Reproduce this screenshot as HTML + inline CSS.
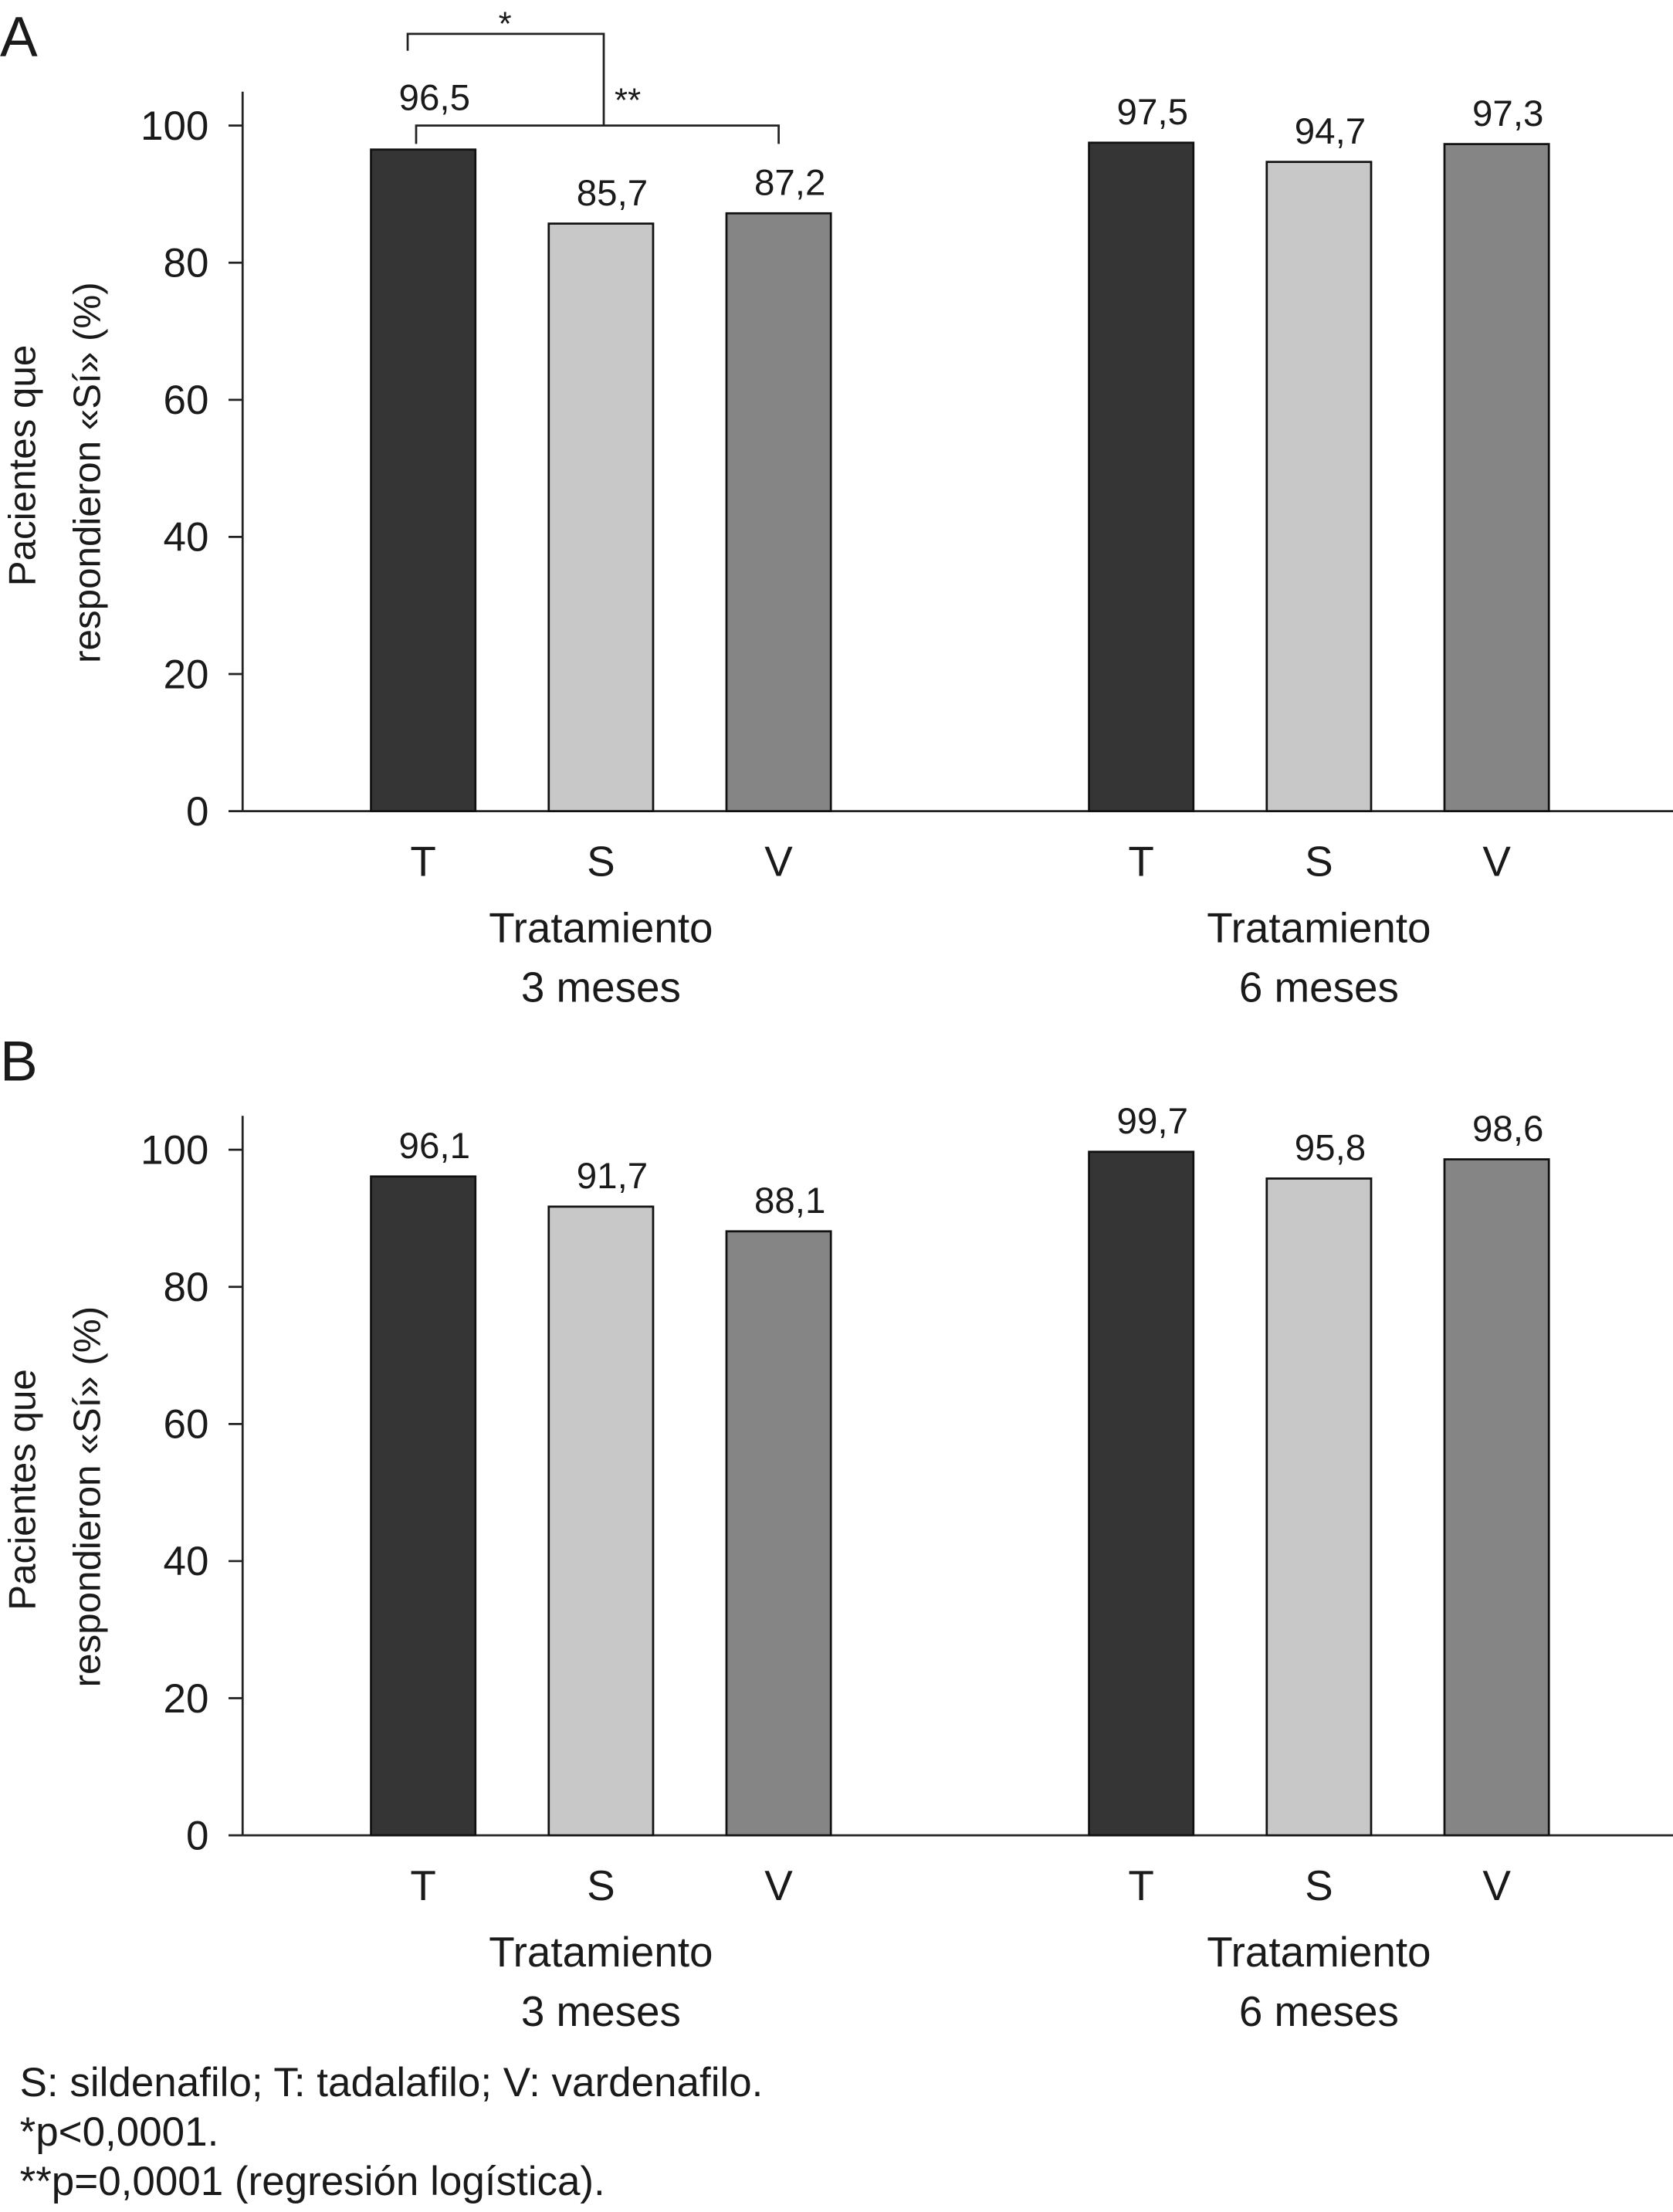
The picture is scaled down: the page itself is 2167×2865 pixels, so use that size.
<!DOCTYPE html>
<html><head><meta charset="utf-8"><style>
html,body{margin:0;padding:0;background:#fff;}
svg{display:block;}
text{font-family:"Liberation Sans",sans-serif;fill:#1a1a1a;}
</style></head><body>
<svg id="chart" width="2167" height="2865" viewBox="0 0 1186 1568" xmlns="http://www.w3.org/2000/svg">
<text x="0" y="40" font-size="40">A</text>
<text x="0" y="766" font-size="40">B</text>
<g id="panelA"></g>
<g id="panelB"></g>
<g stroke="#222" stroke-width="1.5" fill="none">
  <polyline points="289,36 289,24 428,24 428,89"/>
  <polyline points="295,102 295,89 552,89 552,102"/>
</g>
<text x="358" y="25" font-size="24" text-anchor="middle">*</text>
<text x="445" y="79" font-size="24" text-anchor="middle">**</text>
<text x="14" y="1486" font-size="29">S: sildenafilo; T: tadalafilo; V: vardenafilo.</text>
<text x="14" y="1521" font-size="29">*p&lt;0,0001.</text>
<text x="14" y="1556" font-size="29">**p=0,0001 (regresión logística).</text>
</svg>
<script>
const categories = ["T","S","V"];
const groups = ["3 meses","6 meses"];
const valuesA3 = [96.5, 85.7, 87.2];
const valuesA6 = [97.5, 94.7, 97.3];
const valuesB3 = [96.1, 91.7, 88.1];
const valuesB6 = [99.7, 95.8, 98.6];
const labelsA3 = ["96,5","85,7","87,2"];
const labelsA6 = ["97,5","94,7","97,3"];
const labelsB3 = ["96,1","91,7","88,1"];
const labelsB6 = ["99,7","95,8","98,6"];
const yTicks = [0,20,40,60,80,100];

const NS="http://www.w3.org/2000/svg";
const colors=["#353535","#c8c8c8","#858585"];
const groupStart=[263,772], barW=74, barGap=126;
function mk(tag,attrs,parent){const e=document.createElementNS(NS,tag);for(const k in attrs)e.setAttribute(k,attrs[k]);parent.appendChild(e);return e;}

function drawPanel(g,y0,v3,v6,l3,l6,bracket){
  const y=v=>y0-v*4.86;
  const axis=mk("line",{x1:172,y1:y0-510,x2:172,y2:y0,stroke:"#222","stroke-width":1.5},g);
  
  
  const xaxis=mk("line",{x1:172,y1:y0,x2:1186,y2:y0,stroke:"#222","stroke-width":1.5},g);
  
  
  yTicks.forEach(t=>{
    const tk=mk("line",{x1:162,y1:y(t),x2:172,y2:y(t),stroke:"#222","stroke-width":1.5},g);
    
    
    const tl=mk("text",{x:148,y:y(t)+10,"font-size":29,"text-anchor":"end"},g);
    tl.textContent=t;
    
    
  });
  const t1=mk("text",{transform:`translate(25,${y0-245}) rotate(-90)`,"font-size":27,"text-anchor":"middle"},g);
  t1.textContent="Pacientes que";
  
  
  const t2=mk("text",{transform:`translate(71,${y0-240}) rotate(-90)`,"font-size":27,"text-anchor":"middle"},g);
  t2.textContent="respondieron «Sí» (%)";
  
  
  [[v3,l3],[v6,l6]].forEach(([vals,labs],gi)=>{
    vals.forEach((v,i)=>{
      const x=groupStart[gi]+i*barGap;
      const r=mk("rect",{x:x,y:y(v),width:barW,height:y0-y(v),fill:colors[i],stroke:"#111","stroke-width":1.5},g);
      
      
      const off=(bracket&&gi===0&&i===0)?28:13;
      const vl=mk("text",{x:x+barW/2+8,y:y(v)-off,"font-size":26,"text-anchor":"middle"},g);
      vl.textContent=labs[i];
      
      
      const cl=mk("text",{x:x+barW/2,y:y0+46,"font-size":30,"text-anchor":"middle"},g);
      cl.textContent=categories[i];
      
      
    });
    const cx=groupStart[gi]+barGap+barW/2;
    const gl1=mk("text",{x:cx,y:y0+93,"font-size":30,"text-anchor":"middle"},g);
    gl1.textContent="Tratamiento";
    
    
    const gl2=mk("text",{x:cx,y:y0+135,"font-size":30,"text-anchor":"middle"},g);
    gl2.textContent=groups[gi];
    
    
  });
}
drawPanel(document.getElementById("panelA"),575,valuesA3,valuesA6,labelsA3,labelsA6,true);
drawPanel(document.getElementById("panelB"),1301,valuesB3,valuesB6,labelsB3,labelsB6,false);
</script>
</body></html>
